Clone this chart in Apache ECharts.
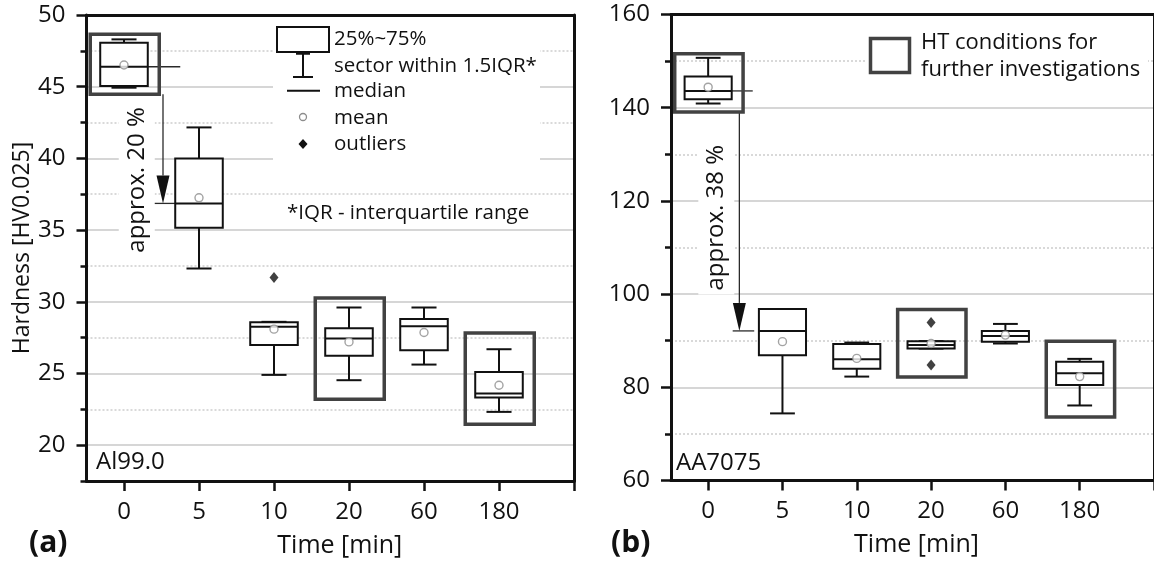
<!DOCTYPE html>
<html>
<head>
<meta charset="utf-8">
<script src="https://cdn.jsdelivr.net/npm/echarts@6/dist/echarts.min.js"></script>
<style>
  html, body { margin: 0; padding: 0; background: #fff; }
  #chart { width: 1154px; height: 564px; }
</style>
</head>
<body>
<div id="chart"></div>
<script>
// Heat-treatment times (min), one box per time
const timeLabels = ['0', '5', '10', '20', '60', '180'];

// Al99.0 hardness: [lower whisker, Q1, median, Q3, upper whisker]
const alBoxes = [
  [44.93, 45.05, 46.39, 48.07, 48.30],
  [32.32, 35.16, 36.86, 40.00, 42.16],
  [24.90, 26.99, 28.25, 28.58, 28.60],
  [24.53, 26.23, 27.44, 28.16, 29.60],
  [25.62, 26.62, 28.30, 28.79, 29.60],
  [22.32, 23.32, 23.60, 25.11, 26.69]
];
const alMeans = [46.51, 37.25, 28.09, 27.20, 27.86, 24.18];
const alOutliers = [[2, 31.69]];
// conditions kept for further investigations: [time index, lower, upper]
const alHighlight = [[0, 44.47, 48.65], [3, 23.20, 30.27], [5, 21.46, 27.83]];
const alTicksMajor = [20, 25, 30, 35, 40, 45, 50];
const alTicksMinor = [17.5, 22.5, 27.5, 32.5, 37.5, 42.5, 47.5];
const alDropText = 'approx. 20 %';

// AA7075 hardness: [lower whisker, Q1, median, Q3, upper whisker]
const aaBoxes = [
  [140.9, 141.8, 143.6, 146.7, 150.7],
  [74.4, 86.9, 92.1, 96.8, 96.8],
  [82.3, 84.0, 86.0, 89.3, 89.6],
  [88.3, 88.3, 89.1, 89.9, 89.9],
  [89.4, 89.8, 91.0, 92.1, 93.6],
  [76.1, 80.5, 83.0, 85.5, 86.1]
];
const aaMeans = [144.4, 89.8, 86.2, 89.4, 91.2, 82.3];
const aaOutliers = [[3, 93.9], [3, 84.8]];
const aaHighlight = [[0, 139.1, 151.6], [3, 82.2, 96.7], [5, 73.6, 89.9]];
const aaTicksMajor = [60, 80, 100, 120, 140, 160];
const aaTicksMinor = [70, 90, 110, 130, 150];
const aaDropText = 'approx. 38 %';

// ---- drawing ----
const FONT = "'Open Sans', 'Noto Sans', sans-serif";
const INK = '#111';
const TEXT = '#111';
const BOX_HALF = 0.317;   // half box width, axis units
const CAP_HALF = 0.167;   // half whisker-cap width
const HL_LEFT = 0.45, HL_RIGHT = 0.47;

// layout of the drop annotation per panel (axis units)
const dropLayout = [
  { extEnd: 0.75, arrowX: 0.52, barFrom: 0.39, barTo: 0.68, textX: 0.17, textY: 38.5 },
  { extEnd: 0.60, arrowX: 0.42, barFrom: 0.33, barTo: 0.62, textX: 0.11, textY: 116.4 }
];

const chart = echarts.init(document.getElementById('chart'), null, { renderer: 'canvas' });

function renderBox(params, api) {
  const x = api.value(0);
  const lo = api.value(1), q1 = api.value(2), med = api.value(3), q3 = api.value(4), hi = api.value(5);
  const px = api.coord([x, med])[0];
  const y = v => api.coord([x, v])[1];
  const hw = api.size([BOX_HALF, 0])[0];
  const cw = api.size([CAP_HALF, 0])[0];
  const st = { stroke: INK, lineWidth: 2, fill: null };
  return {
    type: 'group',
    children: [
      { type: 'line', shape: { x1: px, y1: y(hi), x2: px, y2: y(q3) }, style: st },
      { type: 'line', shape: { x1: px, y1: y(q1), x2: px, y2: y(lo) }, style: st },
      { type: 'line', shape: { x1: px - cw, y1: y(hi), x2: px + cw, y2: y(hi) }, style: st },
      { type: 'line', shape: { x1: px - cw, y1: y(lo), x2: px + cw, y2: y(lo) }, style: st },
      { type: 'rect', shape: { x: px - hw, y: y(q3), width: 2 * hw, height: y(q1) - y(q3) },
        style: { stroke: INK, lineWidth: 2, fill: '#fff' } },
      { type: 'line', shape: { x1: px - hw, y1: y(med), x2: px + hw, y2: y(med) }, style: st }
    ]
  };
}

function renderHighlight(params, api) {
  const i = api.value(0);
  const p1 = api.coord([i - HL_LEFT, api.value(2)]);
  const p2 = api.coord([i + HL_RIGHT, api.value(1)]);
  return {
    type: 'rect',
    shape: { x: p1[0], y: p1[1], width: p2[0] - p1[0], height: p2[1] - p1[1] },
    style: { stroke: '#424242', lineWidth: 3.5, fill: null }
  };
}

function makeDropRenderer(panel, boxes, highlight, text) {
  const L = dropLayout[panel];
  return function (params, api) {
    const from = boxes[0][2];        // median at 0 min
    const to = boxes[1][2];          // median at 5 min
    const start = highlight[0][1];   // lower edge of the 0 min frame
    const c = (x, v) => api.coord([x, v]);
    const a0 = c(L.arrowX, start), tip = c(L.arrowX, to);
    const e0 = c(BOX_HALF, from), e1 = c(L.extEnd, from);
    const b0 = c(L.barFrom, to), b1 = c(L.barTo, to);
    const t = c(L.textX, L.textY);
    const thin = { stroke: '#2a2a2a', lineWidth: 1.3, fill: null };
    const headH = 28, headW = 6.5;
    return {
      type: 'group',
      children: [
        { type: 'line', shape: { x1: e0[0], y1: e0[1], x2: e1[0], y2: e1[1] }, style: thin },
        { type: 'line', shape: { x1: a0[0], y1: a0[1], x2: tip[0], y2: tip[1] - headH }, style: thin },
        { type: 'polygon', shape: { points: [[tip[0], tip[1]], [tip[0] - headW, tip[1] - headH], [tip[0] + headW, tip[1] - headH]] },
          style: { fill: '#111' } },
        { type: 'line', shape: { x1: b0[0], y1: b0[1], x2: b1[0], y2: b1[1] }, style: thin },
        { type: 'text', x: t[0], y: t[1], rotation: Math.PI / 2,
          style: { text: text, fontSize: 24, fontFamily: FONT, fill: TEXT,
                   align: 'center', verticalAlign: 'middle', textAlign: 'center', textVerticalAlign: 'middle',
                   backgroundColor: '#fff', padding: [6, 4] } }
      ]
    };
  };
}

function xAxes(g, name, namePad) {
  return [
    {
      gridIndex: g, type: 'value', min: -0.5, max: 6, position: 'bottom',
      axisLine: { onZero: false, lineStyle: { color: INK, width: 3 } },
      axisTick: { customValues: [0, 1, 2, 3, 4, 5, 6], length: 10, lineStyle: { color: INK, width: 2.5 } },
      axisLabel: { customValues: [0, 1, 2, 3, 4, 5], formatter: v => timeLabels[Math.round(v)],
                   margin: 19, fontSize: 24, color: TEXT, fontFamily: FONT },
      splitLine: { show: false },
      name: name, nameLocation: 'middle', nameGap: 52,
      nameTextStyle: { fontSize: 25, color: TEXT, fontFamily: FONT, padding: namePad }
    },
    {
      gridIndex: g, type: 'value', min: -0.5, max: 6, position: 'top',
      axisLine: { onZero: false, lineStyle: { color: INK, width: 3 } },
      axisTick: { show: false }, axisLabel: { show: false }, splitLine: { show: false }
    }
  ];
}

function yAxes(g, min, max, major, minor, name) {
  return [
    {
      gridIndex: g, type: 'value', min: min, max: max, position: 'left',
      axisLine: { onZero: false, lineStyle: { color: INK, width: 3 } },
      axisTick: { customValues: major, length: 10, lineStyle: { color: INK, width: 2.5 } },
      axisLabel: { customValues: major, margin: 21, fontSize: 24, color: TEXT, fontFamily: FONT },
      splitLine: { show: true, lineStyle: { color: '#c8c8c8', width: 1.5 } },
      name: name, nameLocation: 'middle', nameGap: 53, nameRotate: 90,
      nameTextStyle: { fontSize: 23, color: TEXT, fontFamily: FONT }
    },
    {
      gridIndex: g, type: 'value', min: min, max: max, position: 'left',
      axisLine: { show: false, onZero: false },
      axisTick: { customValues: minor, length: 6, lineStyle: { color: INK, width: 2.5 } },
      axisLabel: { show: false },
      splitLine: { show: true, lineStyle: { color: '#cdcdcd', width: 1.5, type: [2, 2] } }
    },
    {
      gridIndex: g, type: 'value', min: min, max: max, position: 'right',
      axisLine: { onZero: false, lineStyle: { color: INK, width: 3 } },
      axisTick: { show: false }, axisLabel: { show: false }, splitLine: { show: false }
    }
  ];
}

function panelSeries(g, boxes, means, outliers, highlight, text) {
  const xi = g * 2, yi = g * 3;
  return [
    { type: 'custom', xAxisIndex: xi, yAxisIndex: yi, z: 3, silent: true,
      renderItem: renderHighlight, data: highlight, encode: { x: 0, y: [1, 2] } },
    { type: 'custom', xAxisIndex: xi, yAxisIndex: yi, z: 2, silent: true,
      renderItem: makeDropRenderer(g, boxes, highlight, text), data: [[0, boxes[0][2]]], encode: { x: 0, y: 1 } },
    { type: 'custom', xAxisIndex: xi, yAxisIndex: yi, z: 4, silent: true,
      renderItem: renderBox, data: boxes.map((b, i) => [i].concat(b)), encode: { x: 0, y: [1, 2, 3, 4, 5] } },
    { type: 'scatter', xAxisIndex: xi, yAxisIndex: yi, z: 5, silent: true,
      symbol: 'circle', symbolSize: 8,
      itemStyle: { color: '#fff', borderColor: '#8c8c8c', borderWidth: 1.4 },
      data: means.map((m, i) => [i, m]) },
    { type: 'scatter', xAxisIndex: xi, yAxisIndex: yi, z: 5, silent: true,
      symbol: 'diamond', symbolSize: [9, 11], itemStyle: { color: '#111' },
      data: outliers }
  ];
}

const legendText = (x, y, text, size) => ({
  type: 'text', x: x, y: y, z: 20,
  style: { text: text, fontSize: size, fontFamily: FONT, fill: TEXT, textVerticalAlign: 'middle', verticalAlign: 'middle' }
});
const legendLine = (x1, y1, x2, y2, w) => ({
  type: 'line', z: 20, shape: { x1, y1, x2, y2 }, style: { stroke: INK, lineWidth: w || 2 }
});

const graphics = [
  // white panes behind the legends
  { type: 'rect', z: 1, shape: { x: 273, y: 18, width: 267, height: 154 }, style: { fill: '#fff' } },
  { type: 'rect', z: 1, shape: { x: 866, y: 18, width: 282, height: 68 }, style: { fill: '#fff' } },
  // legend of panel (a)
  { type: 'rect', z: 20, shape: { x: 277, y: 27, width: 52, height: 25 }, style: { stroke: INK, lineWidth: 2, fill: '#fff' } },
  legendLine(303, 53, 303, 77),
  legendLine(293, 77, 313, 77),
  legendLine(296, 53.5, 310, 53.5, 2.5),
  legendLine(287, 90.7, 320, 90.7),
  { type: 'circle', z: 20, shape: { cx: 303, cy: 117, r: 3.5 }, style: { stroke: '#8c8c8c', lineWidth: 1.3, fill: '#fff' } },
  { type: 'polygon', z: 20, shape: { points: [[303, 139], [307.5, 144], [303, 149], [298.5, 144]] }, style: { fill: '#111' } },
  legendText(334, 39, '25%~75%', 20.5),
  legendText(334, 66, 'sector within 1.5IQR*', 20.5),
  legendText(334, 91, 'median', 20.5),
  legendText(334, 118, 'mean', 20.5),
  legendText(334, 144, 'outliers', 20.5),
  legendText(287, 213, '*IQR - interquartile range', 20.5),
  // legend of panel (b)
  { type: 'rect', z: 20, shape: { x: 870.5, y: 38.5, width: 39, height: 34 }, style: { stroke: '#424242', lineWidth: 3.5, fill: null } },
  legendText(921, 43, 'HT conditions for', 22),
  legendText(921, 70, 'further investigations', 22),
  // material labels
  legendText(96, 462, 'Al99.0', 24),
  legendText(676, 463, 'AA7075', 24),
  // panel letters
  { type: 'text', x: 29, y: 543, z: 20,
    style: { text: '(a)', fontSize: 30, fontWeight: 'bold', fontFamily: FONT, fill: TEXT, textVerticalAlign: 'middle', verticalAlign: 'middle' } },
  { type: 'text', x: 611, y: 543, z: 20,
    style: { text: '(b)', fontSize: 30, fontWeight: 'bold', fontFamily: FONT, fill: TEXT, textVerticalAlign: 'middle', verticalAlign: 'middle' } }
];

chart.setOption({
  animation: false,
  textStyle: { fontFamily: FONT },
  grid: [
    { left: 86.5, top: 15, width: 487.5, height: 466 },
    { left: 671, top: 14.5, width: 487.5, height: 466 }
  ],
  xAxis: [].concat(xAxes(0, 'Time [min]', [0, 0, 0, 19]), xAxes(1, 'Time [min]', [0, 0, 0, 8])),
  yAxis: [].concat(
    yAxes(0, 17.5, 50, alTicksMajor, alTicksMinor, 'Hardness [HV0.025]'),
    yAxes(1, 60, 160, aaTicksMajor, aaTicksMinor, '')
  ),
  series: [].concat(
    panelSeries(0, alBoxes, alMeans, alOutliers, alHighlight, alDropText),
    panelSeries(1, aaBoxes, aaMeans, aaOutliers, aaHighlight, aaDropText)
  ),
  graphic: graphics
});
</script>
</body>
</html>
